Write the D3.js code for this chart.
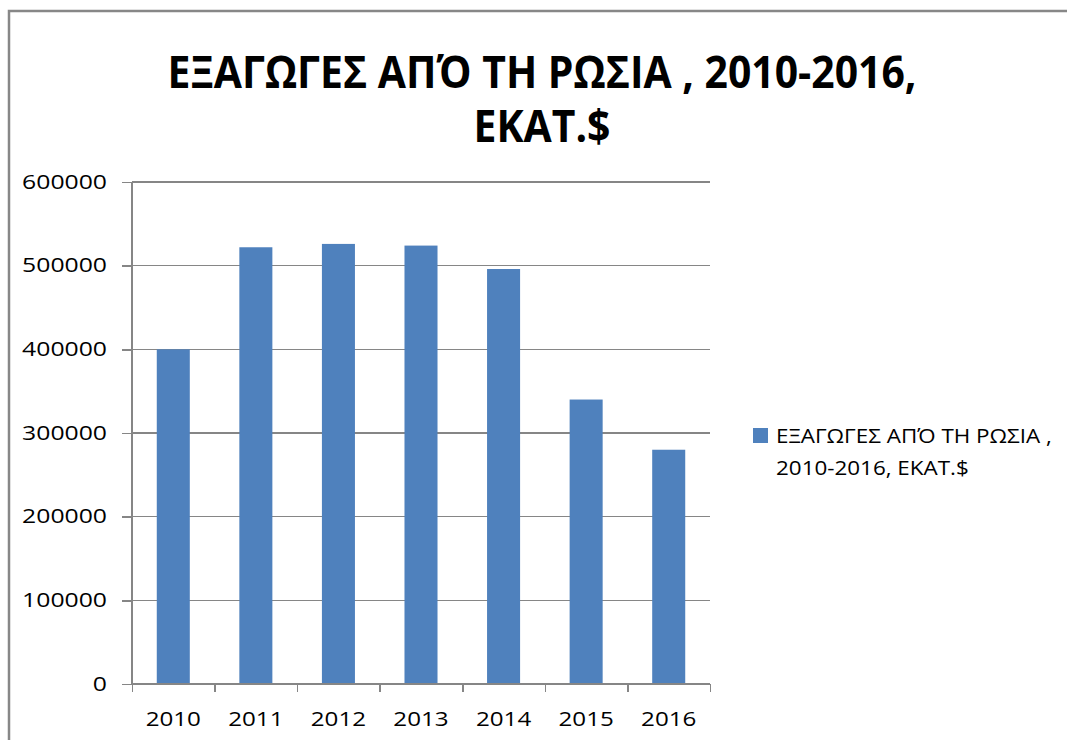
<!DOCTYPE html>
<html>
	<head>
		<meta charset="utf-8">
		<style>
			body { margin: 0; background: #fff; }
			svg { display: block; }
			.axis path, .axis line { stroke: #868686; stroke-width: 1.5; shape-rendering: crispEdges; }
			.grid line { stroke: #868686; stroke-width: 1.5; shape-rendering: crispEdges; }
			text { font-family: "Open Sans", sans-serif; fill: #000; }
		</style>
		<script src="https://cdn.jsdelivr.net/npm/d3@7"></script>
	</head>
	<body>
		<div id="chart"></div>
		<script type="text/javascript">
			// values (million $)
			var years = ["2010", "2011", "2012", "2013", "2014", "2015", "2016"];
			var exports = [400000, 522000, 526000, 524000, 496000, 340000, 280000];
			var yTicks = [0, 100000, 200000, 300000, 400000, 500000, 600000];
			var titleLines = ["ΕΞΑΓΩΓΕΣ ΑΠΌ ΤΗ ΡΩΣΙΑ , 2010-2016,", "ΕΚΑΤ.$"];
			var legendLines = ["ΕΞΑΓΩΓΕΣ ΑΠΌ ΤΗ ΡΩΣΙΑ ,", "2010-2016, ΕΚΑΤ.$"];

			var width = 1067, height = 740;
			var plot = {left: 132, right: 710, top: 182, bottom: 684};
			var sx = 1.27; // the source picture is stretched sideways
			var barColor = "#4F81BD";

			var svg = d3.select("#chart").append("svg")
				.attr("width", width)
				.attr("height", height);

			// chart frame (only left and top edges are visible)
			svg.append("path")
				.attr("d", "M9,740 V11 H1067")
				.attr("fill", "none")
				.attr("stroke", "#878787")
				.attr("stroke-width", 2.5);

			var x = d3.scaleBand()
				.domain(years)
				.range([plot.left, plot.right])
				.paddingInner(0.6)
				.paddingOuter(0.3);

			var y = d3.scaleLinear()
				.domain([0, 600000])
				.range([plot.bottom, plot.top]);

			// horizontal gridlines
			svg.append("g")
				.attr("class", "grid")
				.selectAll("line")
				.data(yTicks.slice(1))
				.enter().append("line")
				.attr("x1", plot.left)
				.attr("x2", plot.right)
				.attr("y1", function(d) { return y(d); })
				.attr("y2", function(d) { return y(d); });

			svg.append("g")
				.selectAll("rect")
				.data(exports)
				.enter().append("rect")
				.attr("x", function(d, i) { return x(years[i]); })
				.attr("width", x.bandwidth())
				.attr("y", function(d) { return y(d); })
				.attr("height", function(d) { return y(0) - y(d); })
				.attr("fill", barColor);

			// y axis
			var yAxis = svg.append("g")
				.attr("class", "axis")
				.attr("transform", "translate(" + plot.left + ",0)")
				.call(d3.axisLeft(y).tickValues(yTicks).tickSize(10).tickPadding(15).tickFormat(d3.format("d")));
			yAxis.select(".domain").attr("d", "M0," + plot.top + "V" + plot.bottom);
			yAxis.selectAll("text")
				.style("font-size", "19.5px")
				.attr("x", -25 / sx)
				.attr("transform", "scale(" + sx + ",1)");

			// x axis: ticks between categories
			var xEdges = d3.scaleLinear().domain([0, years.length]).range([plot.left, plot.right]);
			var xAxis = svg.append("g")
				.attr("class", "axis")
				.attr("transform", "translate(0," + plot.bottom + ")")
				.call(d3.axisBottom(xEdges).ticks(years.length).tickSize(8).tickFormat(""));
			xAxis.select(".domain").attr("d", "M" + plot.left + ",0H" + plot.right);

			svg.append("g")
				.selectAll("text")
				.data(years)
				.enter().append("text")
				.attr("text-anchor", "middle")
				.attr("transform", function(d) {
					return "translate(" + (x(d) + x.bandwidth() / 2) + "," + (plot.bottom + 42) + ") scale(1.24,1)";
				})
				.style("font-size", "19.5px")
				.text(function(d) { return d; });

			// title
			svg.append("g")
				.selectAll("text")
				.data(titleLines)
				.enter().append("text")
				.attr("text-anchor", "middle")
				.attr("transform", function(d, i) {
					return "translate(542," + (88 + i * 54) + ") scale(0.93,1)";
				})
				.style("font-size", "44px")
				.style("font-weight", "bold")
				.text(function(d) { return d; });

			// legend
			var legend = svg.append("g").attr("transform", "translate(753,428)");
			legend.append("rect")
				.attr("width", 15)
				.attr("height", 15)
				.attr("fill", barColor);
			legend.selectAll("text")
				.data(legendLines)
				.enter().append("text")
				.attr("transform", function(d, i) {
					return "translate(23," + (15 + i * 32) + ") scale(1.15,1)";
				})
				.style("font-size", "19.5px")
				.text(function(d) { return d; });
		</script>
	</body>
</html>
